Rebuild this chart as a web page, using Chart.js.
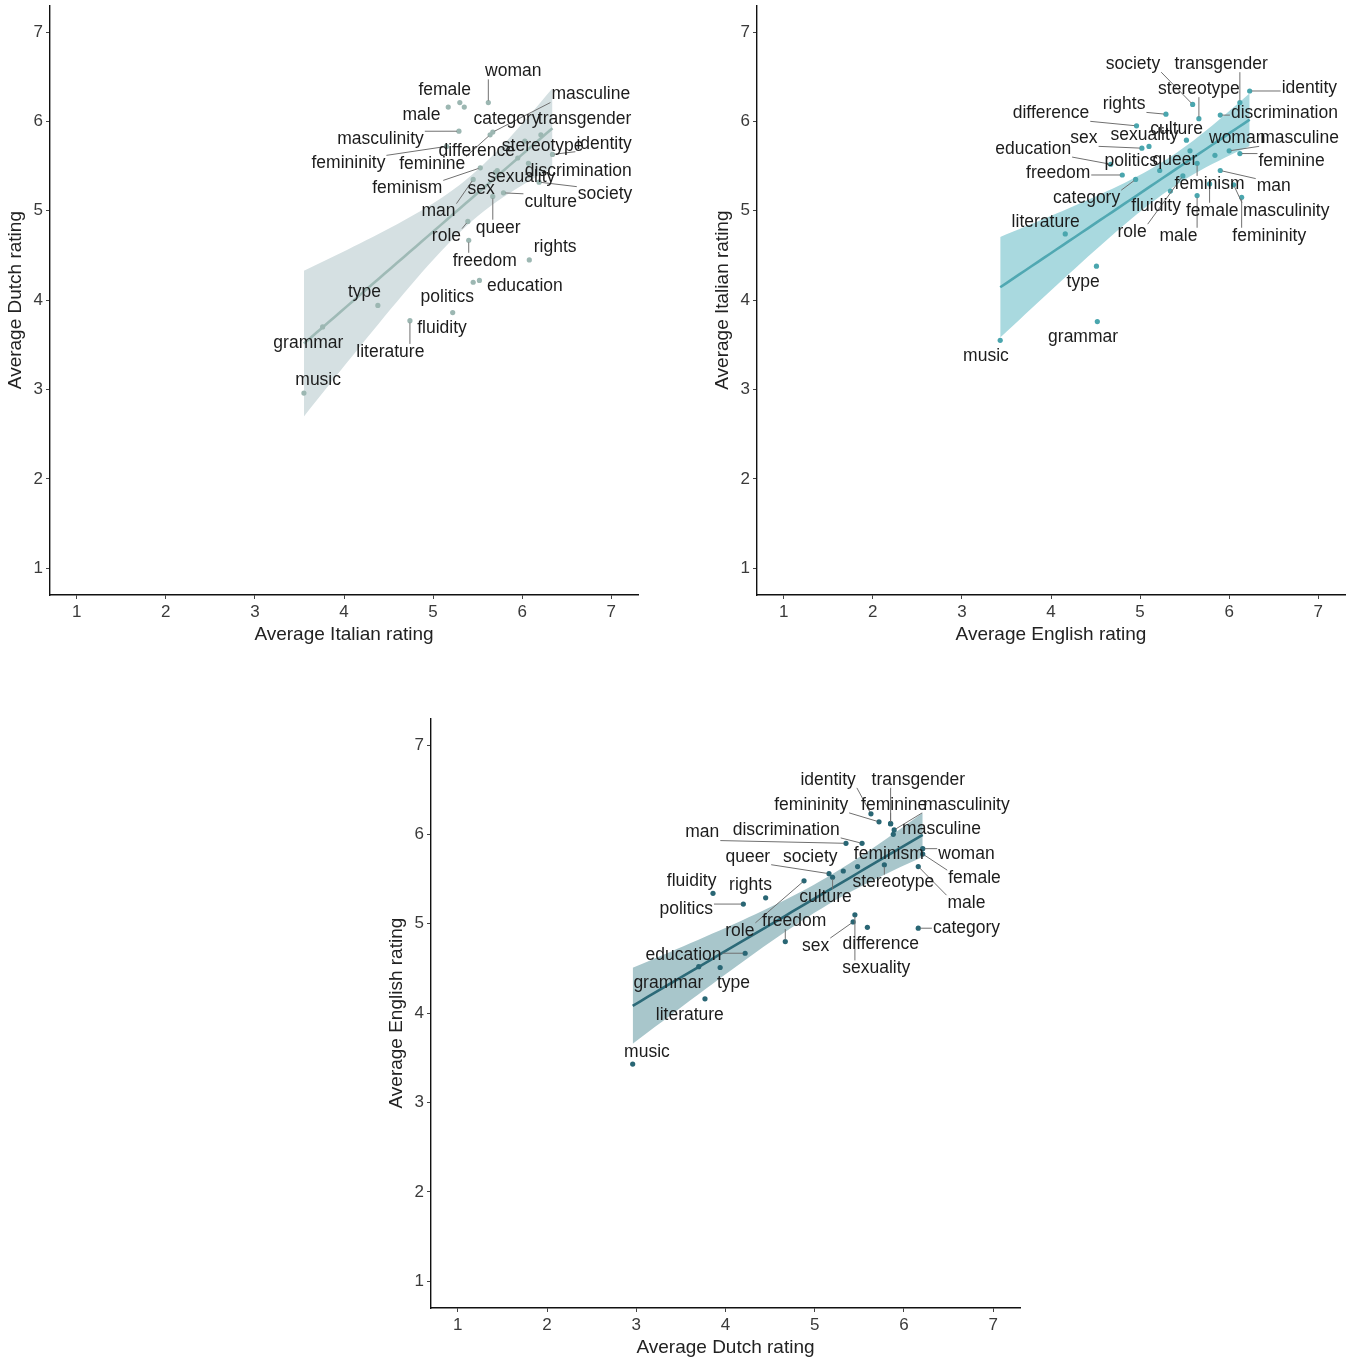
<!DOCTYPE html>
<html>
<head>
<meta charset="utf-8">
<script src="https://cdn.jsdelivr.net/npm/chart.js@4.4.1/dist/chart.umd.min.js"></script>
<style>
  html, body { margin: 0; padding: 0; background: #fff; }
  body { width: 1358px; height: 1365px; position: relative; overflow: hidden; }
  canvas { position: absolute; }
</style>
</head>
<body>
<canvas id="c1" width="650" height="658" style="left:0;top:-8px"></canvas>
<canvas id="c2" width="650" height="658" style="left:707px;top:-8px"></canvas>
<canvas id="c3" width="651" height="658" style="left:381px;top:705px"></canvas>
<script>
// words and their average ratings per language
const words = ['music','grammar','type','literature','fluidity','politics','education','rights','freedom','role',
  'category','masculine','sex','sexuality','difference','woman','female','male','masculinity','femininity',
  'identity','transgender','feminine','discrimination','man','society','stereotype','culture','queer','feminism'];
const dutch   = [2.96,3.70,3.94,3.77,3.86,4.20,4.22,4.45,4.67,4.88, 6.16,5.88,5.43,5.45,5.59,6.21,6.21,6.16,5.89,5.72, 5.63,5.85,5.85,5.53,5.35,5.32,5.78,5.20,5.16,5.48];
const italian = [3.55,3.76,4.38,4.74,5.22,5.45,5.52,6.08,5.40,5.39, 5.35,5.67,5.70,5.72,5.95,5.62,5.30,5.17,5.29,5.15, 6.34,6.21,5.64,6.07,5.45,6.19,6.03,5.79,5.67,5.53];
const english = [3.43,4.52,4.51,4.16,5.34,5.22,4.67,5.29,4.80,5.48, 4.95,6.00,5.02,5.10,4.96,5.84,5.78,5.64,6.05,6.14, 6.23,6.12,6.12,5.90,5.90,5.59,5.66,5.52,5.56,5.64];

const tickValues = [1, 2, 3, 4, 5, 6, 7];
const tickLabels = ['1', '2', '3', '4', '5', '6', '7'];

// where the repelled text labels sit (data units of each panel)
const lab1x = [3.71,3.60,4.23,4.52,5.10,5.16,6.03,6.37,5.58,5.15, 5.83,6.77,5.54,5.99,5.49,5.90,5.13,4.87,4.41,4.05, 6.92,6.70,4.99,6.63,5.06,6.93,6.23,6.32,5.73,4.71];
const lab1y = [3.10,3.52,4.09,3.42,3.69,4.03,4.16,4.59,4.44,4.71, 6.03,6.30,5.24,5.37,5.67,6.56,6.35,6.07,5.80,5.53, 5.75,6.03,5.52,5.44,4.99,5.18,5.72,5.10,4.81,5.25];
const lab2x = [3.27,4.36,4.36,3.94,5.18,4.90,3.80,4.82,4.08,4.91, 4.40,6.79,4.37,5.05,4.00,6.09,5.81,5.43,6.64,6.45, 6.90,5.91,6.70,6.62,6.50,4.92,5.66,5.41,5.39,5.78];
const lab2y = [3.37,3.59,4.20,4.87,5.05,5.56,5.69,6.19,5.42,4.76, 5.14,5.81,5.81,5.84,6.09,5.81,5.00,4.72,5.00,4.72, 6.37,6.64,5.55,6.09,5.27,6.64,6.36,5.91,5.57,5.30];
const lab3x = [3.12,3.36,4.09,3.60,3.62,3.56,3.53,4.28,4.77,4.16, 6.70,6.42,5.01,5.69,5.74,6.70,6.79,6.70,6.70,4.96, 5.15,6.16,5.89,4.68,3.74,4.95,5.88,5.12,4.25,5.83];
const lab3y = [3.56,4.34,4.34,3.98,5.48,5.16,4.65,5.43,5.03,4.92, 4.95,6.06,4.75,4.50,4.77,5.78,5.51,5.23,6.33,6.33, 6.61,6.61,6.33,6.05,6.02,5.74,5.46,5.30,5.75,5.78];

const FONT = '"Liberation Sans", Arial, sans-serif';

// least squares line with 95% confidence band, like geom_smooth(method = "lm")
function smooth(xs, ys) {
    const n = xs.length;
    const mx = xs.reduce((a, b) => a + b, 0) / n;
    const my = ys.reduce((a, b) => a + b, 0) / n;
    let sxx = 0, sxy = 0;
    xs.forEach((x, i) => { sxx += (x - mx) ** 2; sxy += (x - mx) * (ys[i] - my); });
    const b = sxy / sxx, a = my - b * mx;
    let sse = 0;
    xs.forEach((x, i) => { sse += (ys[i] - a - b * x) ** 2; });
    const s = Math.sqrt(sse / (n - 2));
    const t = 2.048;
    const lo = Math.min(...xs), hi = Math.max(...xs);
    const line = [], upper = [], lower = [];
    for (let k = 0; k <= 40; k++) {
        const x = lo + (hi - lo) * k / 40;
        const fit = a + b * x;
        const se = s * Math.sqrt(1 / n + (x - mx) ** 2 / sxx);
        line.push({ x, y: fit });
        upper.push({ x, y: fit + t * se });
        lower.push({ x, y: fit - t * se });
    }
    return { line, upper, lower };
}

// text labels with leader segments
const wordLabels = {
    id: 'wordLabels',
    afterDatasetsDraw(chart, args, opts) {
        const { ctx } = chart;
        const xs = chart.scales.x, ys = chart.scales.y;
        ctx.save();
        ctx.font = '17.5px ' + FONT;
        ctx.strokeStyle = '#707070';
        ctx.lineWidth = 1;
        words.forEach((w, i) => {
            const ax = xs.getPixelForValue(opts.px[i]), ay = ys.getPixelForValue(opts.py[i]);
            const cx = xs.getPixelForValue(opts.lx[i]), cy = ys.getPixelForValue(opts.ly[i]);
            const hw = ctx.measureText(w).width / 2 + 1, hh = 8;
            const nx = Math.max(cx - hw, Math.min(ax, cx + hw));
            const ny = Math.max(cy - hh, Math.min(ay, cy + hh));
            const d = Math.hypot(nx - ax, ny - ay);
            if (d > 9) {
                ctx.beginPath();
                ctx.moveTo(ax + (nx - ax) / d * 2, ay + (ny - ay) / d * 2);
                ctx.lineTo(nx, ny);
                ctx.stroke();
            }
        });
        ctx.fillStyle = '#1c1c1c';
        ctx.textAlign = 'center';
        ctx.textBaseline = 'middle';
        words.forEach((w, i) => {
            ctx.fillText(w, xs.getPixelForValue(opts.lx[i]), ys.getPixelForValue(opts.ly[i]));
        });
        ctx.restore();
    }
};

function axis(pos, title) {
    return {
        type: 'linear',
        position: pos,
        min: 0.7,
        max: 7.3,
        afterBuildTicks: s => { s.ticks = tickValues.map(v => ({ value: v })); },
        afterFit: s => { if (pos === 'left') s.width = 50; else s.height = 55; },
        ticks: {
            callback: (v, i) => tickLabels[i],
            color: '#3a3a3a',
            font: { family: FONT, size: 17 },
            padding: 3,
            maxRotation: 0
        },
        grid: { drawOnChartArea: false, drawTicks: true, tickLength: 4, color: '#444', lineWidth: 1 },
        border: { display: true, color: '#111', width: 1.4 },
        title: { display: true, text: title, color: '#222', font: { family: FONT, size: 19 }, padding: { top: 4, bottom: 4 } }
    };
}

function makeChart(id, xs, ys, xTitle, yTitle, lx, ly, colors) {
    const fit = smooth(xs, ys);
    new Chart(document.getElementById(id).getContext('2d'), {
        type: 'scatter',
        data: {
            datasets: [
                {
                    data: xs.map((x, i) => ({ x, y: ys[i] })),
                    pointRadius: 2.6,
                    pointBackgroundColor: colors.point,
                    pointBorderWidth: 0
                },
                {
                    type: 'line',
                    data: fit.line,
                    borderColor: colors.line,
                    borderWidth: 2.6,
                    pointRadius: 0,
                    fill: false
                },
                {
                    type: 'line',
                    data: fit.upper,
                    borderWidth: 0,
                    pointRadius: 0,
                    backgroundColor: colors.band,
                    fill: '+1'
                },
                {
                    type: 'line',
                    data: fit.lower,
                    borderWidth: 0,
                    pointRadius: 0,
                    fill: false
                }
            ]
        },
        options: {
            responsive: false,
            animation: false,
            events: [],
            layout: { padding: { top: 0, right: 12, left: 0, bottom: 0 } },
            scales: { x: axis('bottom', xTitle), y: axis('left', yTitle) },
            plugins: {
                legend: { display: false },
                tooltip: { enabled: false },
                wordLabels: { px: xs, py: ys, lx, ly }
            }
        },
        plugins: [wordLabels]
    });
}

makeChart('c1', italian, dutch, 'Average Italian rating', 'Average Dutch rating', lab1x, lab1y,
    { point: '#9cb7b2', line: '#9fbab6', band: '#d5e0e2' });
makeChart('c2', english, italian, 'Average English rating', 'Average Italian rating', lab2x, lab2y,
    { point: '#4aa6ae', line: '#50a8b2', band: '#a9d9df' });
makeChart('c3', dutch, english, 'Average Dutch rating', 'Average English rating', lab3x, lab3y,
    { point: '#296674', line: '#2c6a78', band: '#a8c6cb' });
</script>
</body>
</html>
